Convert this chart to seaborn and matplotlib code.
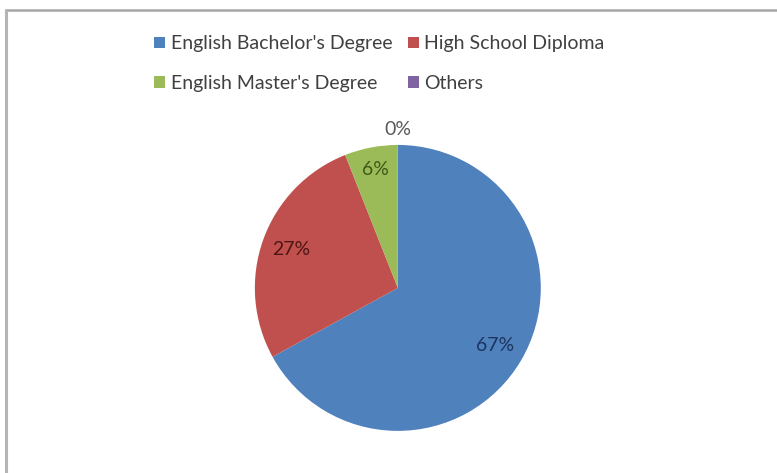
import matplotlib
matplotlib.use("Agg")
import matplotlib.pyplot as plt
from matplotlib.patches import Patch
from matplotlib.lines import Line2D
import numpy as np
import seaborn as sns

categories = ["English Bachelor's Degree", "High School Diploma",
              "English Master's Degree", "Others"]
shares = [67, 27, 6, 0]
slice_colors = ["#4F81BD", "#C0504D", "#9BBB59", "#8064A2"]
label_colors = ["#1c3560", "#4e1513", "#3e5a18", "#595959"]
label_radius = [0.79, 0.79, 0.84, 1.11]

sns.set_theme(style="white")
plt.rcParams["font.family"] = ["Lato", "DejaVu Sans"]

fig = plt.figure(figsize=(7.77, 4.73), dpi=100)
fig.patch.set_facecolor("white")

# frame lines along the top and left edges
fig.add_artist(Line2D([0.008, 1.0], [0.978, 0.978], transform=fig.transFigure,
                      color="#a6a6a6", lw=1.8))
fig.add_artist(Line2D([0.008, 0.008], [0.0, 0.978], transform=fig.transFigure,
                      color="#b4b4b4", lw=2.2))

ax = fig.add_axes([0.328, 0.0888, 0.368, 0.605])
wedges, _ = ax.pie(shares, colors=slice_colors, startangle=90,
                   counterclock=False, radius=1.0,
                   wedgeprops=dict(linewidth=0))
ax.set_xlim(-1, 1)
ax.set_ylim(-1, 1)
ax.set_aspect("equal")
ax.axis("off")

total = sum(shares)
for w, v, c, r in zip(wedges, shares, label_colors, label_radius):
    mid = np.deg2rad((w.theta1 + w.theta2) / 2)
    ax.text(r * np.cos(mid), r * np.sin(mid), f"{round(100 * v / total)}%",
            ha="center", va="center", fontsize=14, color=c)

# legend laid out row by row (matplotlib fills columns first)
handles = [Patch(facecolor=c, edgecolor="none") for c in slice_colors]
order = [0, 2, 1, 3]
fig.legend([handles[i] for i in order], [categories[i] for i in order],
           ncol=2, loc="upper left",
           bbox_to_anchor=(0.176, 0.962), frameon=False,
           fontsize=14, handlelength=0.55, handleheight=0.55,
           handletextpad=0.3, columnspacing=0.8, labelspacing=1.16,
           labelcolor="#404040")

fig.savefig("out.png", dpi=100)
